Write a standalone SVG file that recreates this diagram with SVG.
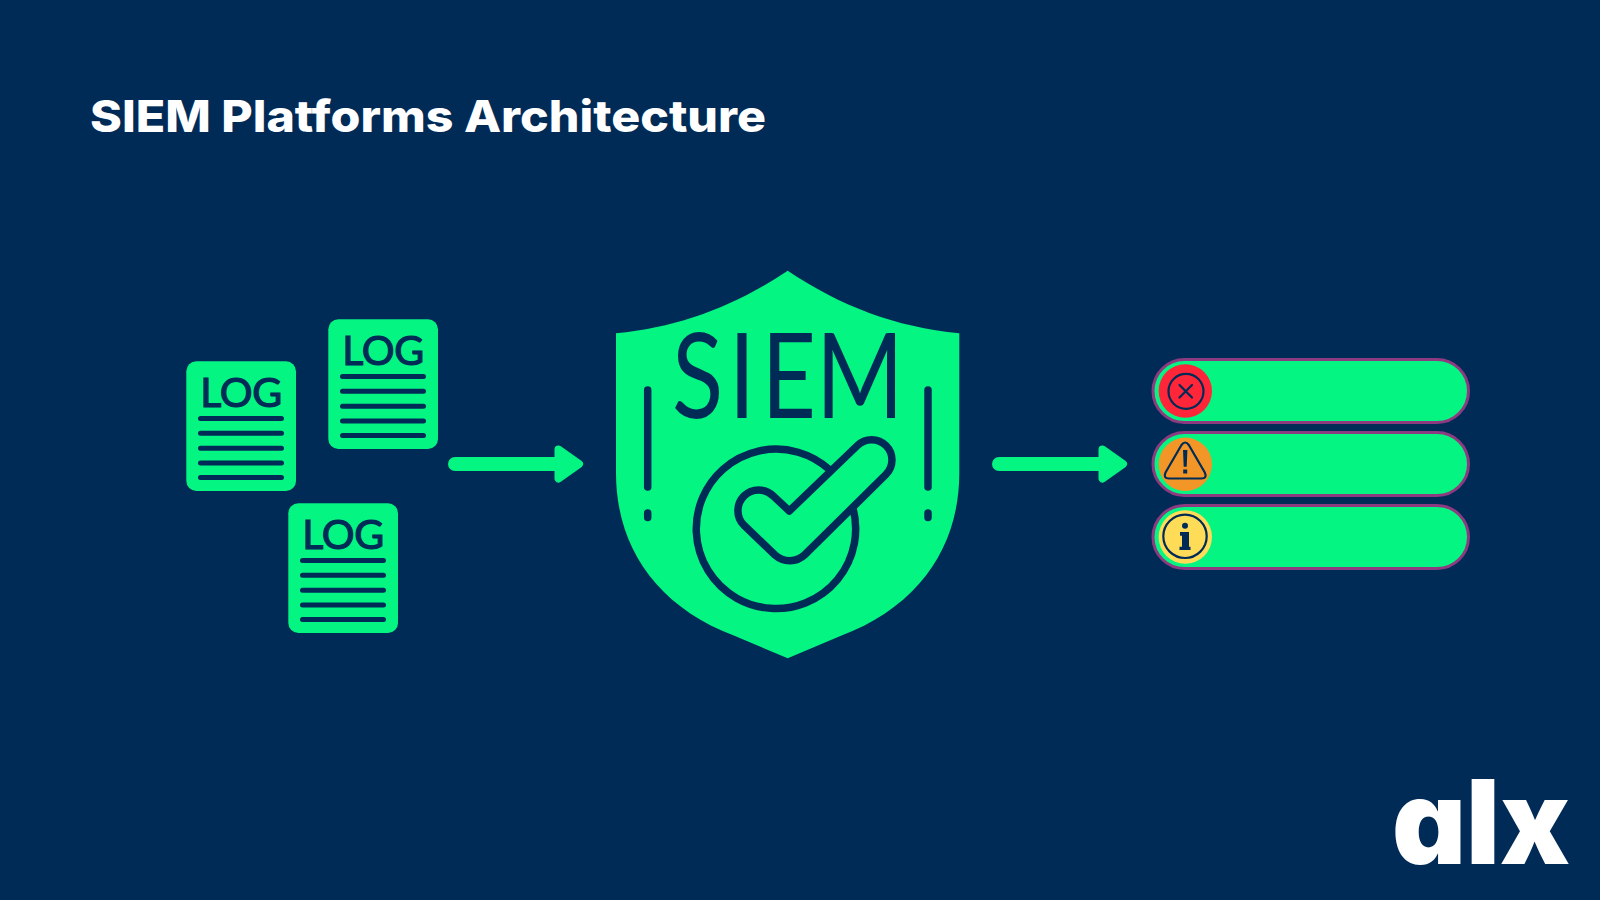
<svg xmlns="http://www.w3.org/2000/svg" width="1600" height="900" viewBox="0 0 1600 900">
<style>
.g{fill:#05f583}
.ln{fill:none;stroke:#002b57;stroke-linecap:round;stroke-linejoin:round}
.dl{stroke-width:5}
.log{font-family:Lato,"Liberation Sans",sans-serif;font-size:41px;fill:#002b57;stroke:#002b57;stroke-width:1.2px}
.siem{font-family:Lato,"Liberation Sans",sans-serif;font-size:118px;fill:#002b57}
.title{font-family:Inter,"Liberation Sans",sans-serif;font-size:44px;font-weight:800;fill:#fff}
.pill{fill:#05f583;stroke:#8e3a80;stroke-width:3}
.i{fill:none;stroke:#002b57;stroke-width:2.2;stroke-linecap:round;stroke-linejoin:round}
.logo{font-family:Inter,"Liberation Sans",sans-serif;font-size:117px;font-weight:900;fill:#fff;font-feature-settings:"cv11"}
</style>
<rect width="1600" height="900" fill="#002b57"/>
<text id="title" class="title" x="90" y="132" textLength="676" lengthAdjust="spacingAndGlyphs">SIEM Platforms Architecture</text>

<g id="log-1" transform="translate(186.3,361.3)">
<rect class="g" width="109.7" height="129.7" rx="10"/>
<text class="log" x="14 33.5 66" y="45.6">LOG</text>
<path class="ln dl" d="M14.2 57.3H95.2M14.2 72H95.2M14.2 87H95.2M14.2 101.7H95.2M14.2 116.3H95.2"/>
</g>
<g id="log-2" transform="translate(328.3,319.3)">
<rect class="g" width="109.7" height="129.7" rx="10"/>
<text class="log" x="14 33.5 66" y="45.6">LOG</text>
<path class="ln dl" d="M14.2 57.3H95.2M14.2 72H95.2M14.2 87H95.2M14.2 101.7H95.2M14.2 116.3H95.2"/>
</g>
<g id="log-3" transform="translate(288.3,503.3)">
<rect class="g" width="109.7" height="129.7" rx="10"/>
<text class="log" x="14 33.5 66" y="45.6">LOG</text>
<path class="ln dl" d="M14.2 57.3H95.2M14.2 72H95.2M14.2 87H95.2M14.2 101.7H95.2M14.2 116.3H95.2"/>
</g>

<g id="connectors">
<g id="arrow-1">
<path d="M455 464H558" stroke="#05f583" stroke-width="14" stroke-linecap="round" fill="none"/>
<path class="g" d="M558.5 449.5L579 464L558.5 478.5Z" stroke="#05f583" stroke-width="8" stroke-linejoin="round"/>
</g>
<g id="arrow-2" transform="translate(544,0)">
<path d="M455 464H558" stroke="#05f583" stroke-width="14" stroke-linecap="round" fill="none"/>
<path class="g" d="M558.5 449.5L579 464L558.5 478.5Z" stroke="#05f583" stroke-width="8" stroke-linejoin="round"/>
</g>
</g>

<g id="siem-shield">
<path class="g" d="M787.7 270.7C735 306 680 327 616 333.3V473C616 545 655 606 735 636L787.7 658.3L840.4 636C920.4 606 959.3 545 959.3 473V333.3C895.4 327 840.4 306 787.7 270.7Z"/>
<text class="siem" transform="translate(0,418) scale(.8,1)" x="840 911 952 1020" y="0">SIEM</text>
<path class="ln" stroke-width="7.5" d="M647.7 390V487M647.7 513V517.5M928 390V487M928 513V517.5"/>
<path class="ln" stroke-width="7.5" d="M829 469.3A79.7 79.7 0 1 0 853 508.3"/>
<path class="ln" stroke-width="7.5" d="M789.3 511L857.3 445.6A20.3 20.3 0 0 1 886 474.4L805 554.5A22 22 0 0 1 775 555L744 525.3A20.7 20.7 0 0 1 773.3 496Z"/>
</g>

<g id="alert-critical">
<rect class="pill" x="1153" y="359.5" width="315.5" height="63" rx="31.5"/>
<circle cx="1185.3" cy="391" r="26.7" fill="#ff2639"/>
<circle class="i" cx="1186" cy="391.3" r="17.5"/>
<path class="i" stroke-width="2.6" d="M1179.5 385L1192 397.5M1192 385L1179.5 397.5"/>
</g>
<g id="alert-warning">
<rect class="pill" x="1153" y="432.5" width="315.5" height="63" rx="31.5"/>
<circle cx="1185.3" cy="464.3" r="26.7" fill="#f29727"/>
<path class="i" d="M1181.5 445L1165.5 472.5Q1163 478.5 1169 478.5H1201.5Q1207.5 478.5 1204.8 472.5L1188.8 445Q1185.2 440 1181.5 445Z"/>
<path fill="#002b57" d="M1183 450H1187.4L1186.7 466.7H1183.7ZM1183.2 469.5H1187.2V473.5H1183.2Z"/>
</g>
<g id="alert-info">
<rect class="pill" x="1153" y="505.5" width="315.5" height="63" rx="31.5"/>
<circle cx="1185.3" cy="537" r="26.7" fill="#ffdc58"/>
<circle class="i" cx="1185" cy="536.3" r="21.7"/>
<circle cx="1185" cy="525.7" r="3" fill="#002b57"/>
<path fill="#002b57" d="M1180 532H1189V546.7H1190.5V550H1179.5V546.7H1182V535.7H1180Z"/>
</g>

<g id="logo">
<text class="logo" x="1392" y="864.3" textLength="178" lengthAdjust="spacingAndGlyphs">alx</text>
</g>
</svg>
